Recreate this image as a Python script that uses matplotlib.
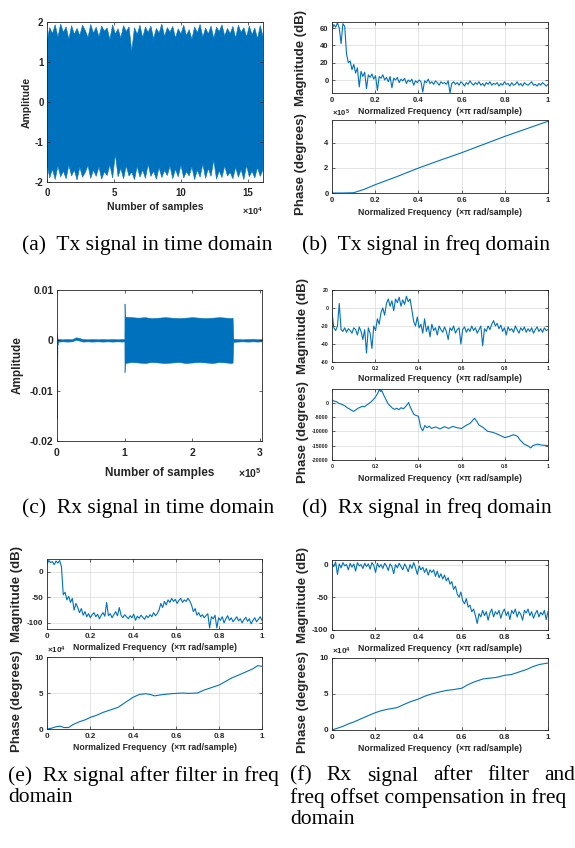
import numpy as np
import matplotlib
matplotlib.use('Agg')
import matplotlib.pyplot as plt
from matplotlib.ticker import FuncFormatter

W, H = 575, 848
blue = '#0072BD'
dark = '#262626'

plt.rcParams['font.family'] = 'Liberation Sans'
plt.rcParams['font.weight'] = 'bold'
plt.rcParams['axes.labelweight'] = 'bold'
plt.rcParams['axes.unicode_minus'] = False
plt.rcParams['mathtext.fontset'] = 'custom'
plt.rcParams['mathtext.rm'] = 'Liberation Sans:bold'
plt.rcParams['mathtext.bf'] = 'Liberation Sans:bold'

# (a) Tx signal, time domain: envelope of the dense band
tx_upper = [1.52, 1.86, 1.71, 1.93, 1.62, 1.95, 1.74, 1.88, 1.57, 1.91,
            1.69, 1.84, 1.66, 1.92, 1.79, 1.61, 1.94, 1.72, 1.87, 1.63,
            1.90, 1.77, 1.85, 1.56, 1.93, 1.70, 1.83, 1.60, 1.91, 1.76,
            1.88, 1.27, 1.86, 1.69, 1.92, 1.61, 1.87, 1.74, 1.90, 1.58,
            1.84, 1.72, 1.95, 1.64, 1.86, 1.75, 1.89, 1.60, 1.83, 1.70,
            1.92, 1.66, 1.81, 1.57, 1.88, 1.73, 1.94, 1.62, 1.85, 1.70,
            1.90, 1.59, 1.87, 1.76, 1.93, 1.65, 1.84, 1.71, 1.89, 1.60,
            1.92, 1.74, 1.86, 1.63, 1.90, 1.68, 1.85, 1.58, 1.91, 1.64]
tx_lower = [-1.55, -1.90, -1.68, -1.94, -1.60, -1.87, -1.73, -1.92, -1.58, -1.85,
            -1.70, -1.95, -1.63, -1.88, -1.76, -1.59, -1.91, -1.70, -1.86, -1.62,
            -1.93, -1.74, -1.84, -1.57, -1.90, -1.30, -1.87, -1.66, -1.92, -1.60,
            -1.85, -1.75, -1.94, -1.61, -1.88, -1.70, -1.91, -1.56, -1.86, -1.73,
            -1.93, -1.64, -1.89, -1.71, -1.84, -1.60, -1.92, -1.68, -1.87, -1.58,
            -1.90, -1.74, -1.85, -1.62, -1.94, -1.70, -1.88, -1.55, -1.91, -1.66,
            -1.86, -1.45, -1.93, -1.72, -1.89, -1.60, -1.85, -1.76, -1.92, -1.63,
            -1.88, -1.69, -1.94, -1.59, -1.87, -1.73, -1.90, -1.64, -1.86, -1.70]

# (b) Tx spectrum
mag_b = [58, 64, 61, 66, 60, 42, 65, 62,
         30, 20, 22, 12, 18, 8, 14, -8, 10, 4, 9, -10,
         6, 3, 7, 1, 5, -12, 4, 2, 6, 0,
         3, -2, 4, -9, 2, 0, 3, -3, 1, -1,
         2, -4, 0, -2, 1, -6, -1, -3, 0, -2,
         -14, -1, -3, 1, -4, -2, -5, -1, -3, -6,
         -2, -4, -3, -5, -1, -15, -4, -2, -5, -3,
         -6, -2, -4, -7, -3, -5, -1, -4, -6, -3,
         -5, -2, -6, -4, -7, -3, -5, -2, -6, -4,
         -5, -3, -7, -4, -6, -2, -5, -4, -7, -3,
         -6, -5, -2, -6, -4, -7, -3, -5, -6, -4,
         -2, -6, -5, -7, -4, -6, -3, -5, -7, -5]
ph_b_x = [0, 0.05, 0.1, 0.15, 0.2, 0.3, 0.4, 0.5, 0.6, 0.7, 0.8, 0.9, 1.0]
ph_b = [0, 0, 2e3, 3e4, 6.6e4, 1.3e5, 1.98e5, 2.6e5, 3.2e5, 3.85e5, 4.5e5, 5.1e5, 5.7e5]

# (c) Rx signal, time domain: envelope
rx_x = [0, 300, 600, 2000, 8000, 15000, 22000, 28000, 32000, 38000,
        45000, 52000, 60000, 68000, 75000, 82000, 90000, 96000, 99600, 99800,
        100200, 101000, 110000, 120000, 130000, 140000, 150000, 160000, 170000, 180000,
        190000, 200000, 210000, 220000, 230000, 240000, 250000, 258000, 259500, 260500,
        266000, 274000, 282000, 290000, 296000, 303000]
rx_upper = [0.0012, 0.0008, 0.0004, 0.00025, 0.0002, 0.00025, 0.0002, 0.0006, 0.0005, 0.00025,
            0.0002, 0.00025, 0.0002, 0.00025, 0.0002, 0.00025, 0.0002, 0.00025, 0.0002, 0.0073,
            0.0052, 0.0047, 0.0046, 0.0045, 0.0046, 0.0044, 0.0045, 0.0046, 0.0045, 0.0044,
            0.0045, 0.0046, 0.0045, 0.0044, 0.0045, 0.0046, 0.0045, 0.0044, 0.0045, 0.0003,
            0.00025, 0.0002, 0.00025, 0.0003, 0.0002, 0.00025]
rx_lower = [-0.0155, -0.006, -0.001, -0.00025, -0.0002, -0.00025, -0.0002, 0.0001, 0.0, -0.00025,
            -0.0002, -0.00025, -0.0002, -0.00025, -0.0002, -0.00025, -0.0002, -0.00025, -0.0002, -0.0063,
            -0.005, -0.0045, -0.0043, -0.0044, -0.0045, -0.0043, -0.0044, -0.0045, -0.0044, -0.0043,
            -0.0045, -0.0044, -0.0043, -0.0044, -0.0045, -0.0043, -0.0044, -0.0045, -0.0044, -0.0003,
            -0.00025, -0.0002, -0.00025, -0.0002, -0.00025, -0.0002]

# (d) Rx spectrum
mag_d = [-5, -22, -25, -20, 5, -24, -26, -22, -27, -23,
         -25, -28, -22, -24, -30, -21, -26, -35, -24, -50,
         -22, -28, -45, -20, -25, -12, -18, -5, 0, -8,
         5, 10, 2, 8, -3, 10, 6, 12, 2, 9,
         4, 13, 7, 10, -2, -15, -20, -10, -22, -18,
         -28, -12, -26, -20, -32, -18, -25, -22, -30, -20,
         -24, -27, -21, -26, -35, -22, -25, -20, -28, -24,
         -22, -40, -24, -21, -27, -23, -26, -20, -25, -22,
         -28, -24, -20, -42, -23, -26, -20, -24, -18, -14,
         -20, -17, -23, -19, -26, -22, -30, -21, -25, -23,
         -27, -20, -24, -28, -22, -25, -21, -27, -23, -26,
         -22, -28, -24, -21, -26, -23, -27, -22, -25, -24]
ph_d_x = [0, 0.01, 0.02, 0.03, 0.04, 0.05, 0.06, 0.07, 0.08, 0.09,
          0.1, 0.11, 0.12, 0.13, 0.14, 0.15, 0.16, 0.17, 0.18, 0.19,
          0.2, 0.21, 0.22, 0.225, 0.23, 0.24, 0.25, 0.26, 0.27, 0.28,
          0.29, 0.3, 0.31, 0.32, 0.33, 0.34, 0.35, 0.355, 0.36, 0.37,
          0.38, 0.39, 0.4, 0.405, 0.41, 0.42, 0.43, 0.44, 0.45, 0.46,
          0.48, 0.5, 0.52, 0.54, 0.56, 0.58, 0.6, 0.62, 0.64, 0.66,
          0.67, 0.68, 0.7, 0.72, 0.74, 0.76, 0.78, 0.8, 0.82, 0.84,
          0.86, 0.87, 0.89, 0.91, 0.92, 0.93, 0.95, 0.97, 1.0]
ph_d = [800, 500, 300, -200, -500, -800, -1200, -1800, -2200, -2700,
        -3100, -2600, -2000, -1700, -1300, -1500, -900, -400, 200, 900,
        1800, 3000, 4600, 3800, 4200, 2500, 1000, -500, -1200, -2000,
        -2400, -2000, -2500, -1800, -2200, -1500, -500, 0, -1200, -2800,
        -4200, -4500, -4800, -6500, -8500, -9800, -8000, -8800, -8200, -9000,
        -8500, -9200, -8400, -9000, -8300, -8800, -9000, -8000, -7200, -5500,
        -6500, -7800, -8700, -10000, -10300, -10800, -11500, -12200, -11800, -11200,
        -11800, -13000, -14500, -15200, -15800, -15000, -14500, -14800, -15000]

# (e) Rx after filter
mag_e = [15, 22, 18, 20, 14, 21, 17, 22, 10, -45,
         -40, -55, -48, -60, -52, -75, -62, -70, -80, -72,
         -85, -78, -88, -82, -90, -84, -80, -88, -83, -92,
         -85, -80, -87, -60, -86, -82, -90, -84, -78, -86,
         -70, -85, -90, -84, -88, -92, -86, -90, -83, -95,
         -87, -91, -85, -89, -93, -86, -90, -84, -88, -80,
         -86, -82, -75, -62, -70, -58, -65, -55, -60, -52,
         -58, -54, -62, -56, -52, -60, -55, -58, -52, -57,
         -65, -78, -72, -85, -80, -88, -84, -90, -86, -82,
         -110, -88, -92, -85, -110, -90, -95, -88, -100, -92,
         -86, -95, -90, -98, -93, -88, -96, -92, -100, -94,
         -89, -97, -92, -102, -95, -90, -98, -93, -88, -95]
ph_e_x = [0, 0.02, 0.04, 0.06, 0.08, 0.1, 0.12, 0.15, 0.18, 0.2,
          0.23, 0.26, 0.3, 0.33, 0.36, 0.38, 0.4, 0.43, 0.46, 0.48,
          0.5, 0.53, 0.56, 0.6, 0.63, 0.66, 0.7, 0.73, 0.76, 0.8,
          0.83, 0.86, 0.9, 0.93, 0.96, 0.98, 1.0]
ph_e = [0, 1e3, 3e3, 4e3, 2e3, 2e3, 6e3, 1.0e4, 1.3e4, 1.6e4,
        1.9e4, 2.3e4, 2.7e4, 3.0e4, 3.6e4, 4.0e4, 4.4e4, 4.8e4, 4.9e4, 4.8e4,
        4.6e4, 4.75e4, 4.85e4, 4.95e4, 5.0e4, 4.95e4, 5.0e4, 5.4e4, 5.7e4, 6.1e4,
        6.6e4, 7.1e4, 7.6e4, 8.0e4, 8.4e4, 8.8e4, 8.7e4]

# (f) Rx after filter and freq offset compensation
mag_f = [2, -3, 4, -15, 1, -5, 3, -2, 0, -8,
         2, -4, 1, -10, 3, -2, 0, -6, 2, -3,
         1, -7, 3, -1, -12, 2, -4, 0, -6, 2,
         -2, -9, 1, -3, -14, 0, -5, 2, -3, -8,
         1, -4, -11, 0, -6, 3, -5, -15, -2, -8,
         -4, -12, -6, -16, -8, -12, -8, -18, -10, -20,
         -14, -22, -16, -25, -20, -30, -26, -38, -33, -45,
         -50, -42, -55, -60, -52, -65, -62, -72, -68, -78,
         -90, -75, -80, -70, -78, -72, -85, -74, -68, -80,
         -72, -76, -70, -82, -73, -68, -78, -72, -84, -70,
         -75, -68, -80, -72, -76, -85, -70, -74, -68, -78,
         -72, -82, -75, -70, -80, -73, -77, -70, -84, -72]
ph_f_x = [0, 0.02, 0.05, 0.08, 0.1, 0.13, 0.16, 0.2, 0.23, 0.26,
          0.28, 0.3, 0.33, 0.36, 0.4, 0.43, 0.46, 0.5, 0.53, 0.56,
          0.6, 0.63, 0.66, 0.7, 0.73, 0.76, 0.8, 0.83, 0.86, 0.9,
          0.93, 0.96, 1.0]
ph_f = [0, 2e3, 5e3, 9e3, 1.1e4, 1.5e4, 1.9e4, 2.4e4, 2.7e4, 2.9e4,
        3.0e4, 3.1e4, 3.5e4, 3.9e4, 4.3e4, 4.7e4, 5.0e4, 5.3e4, 5.5e4, 5.6e4,
        5.8e4, 6.3e4, 6.7e4, 7.1e4, 7.2e4, 7.3e4, 7.6e4, 7.7e4, 8.0e4, 8.4e4,
        8.8e4, 9.1e4, 9.3e4]

freq_ticks = [0, 0.2, 0.4, 0.6, 0.8, 1]
freq_label = 'Normalized Frequency  (\u00d7\u03c0 rad/sample)'

fig = plt.figure(figsize=(W / 100, H / 100), dpi=100)


def box(l, t, r, b):
    return fig.add_axes([l / W, 1 - b / H, (r - l) / W, (b - t) / H])


def style(ax, fs, xpad=3, grid=False):
    ax.tick_params(direction='in', top=True, right=True, length=2.5, width=0.5,
                   labelsize=fs, pad=2.5, colors=dark)
    ax.tick_params(axis='x', pad=xpad)
    for lab in ax.get_xticklabels() + ax.get_yticklabels():
        lab.set_fontweight('bold')
    for s in ax.spines.values():
        s.set_linewidth(0.6)
        s.set_color(dark)
    if grid:
        ax.grid(True, color='#d9d9d9', linewidth=0.5)
        ax.set_axisbelow(True)


def plain(v, pos):
    return '%g' % round(v, 6)


def scaled(p):
    return FuncFormatter(lambda v, pos: '%g' % round(v / 10 ** p, 6))


def power_text(p):
    return r'$\times\mathbf{10^{%d}}$' % p


def freq_panel(l, r, t1, b1, t2, b2, mag, mag_lim, mag_ticks, ph_x, ph_y,
               ph_lim, ph_ticks, ph_pow, fs, xlab1=-0.2, xlab2=-0.2, ylx=-0.115):
    a1 = box(l, t1, r, b1)
    a1.plot(np.linspace(0, 1, len(mag)), mag, color=blue, lw=0.8)
    a1.set_xlim(0, 1)
    a1.set_ylim(*mag_lim)
    a1.set_xticks(freq_ticks)
    a1.set_yticks(mag_ticks)
    a1.xaxis.set_major_formatter(FuncFormatter(plain))
    style(a1, fs, grid=True)
    a1.set_xlabel(freq_label, fontsize=6.2, color=dark, fontweight='bold')
    a1.xaxis.set_label_coords(0.5, xlab1)
    a1.set_ylabel('Magnitude (dB)', fontsize=9.5, color=dark, fontweight='bold')
    a1.yaxis.set_label_coords(ylx, 0.5)

    a2 = box(l, t2, r, b2)
    a2.plot(ph_x, ph_y, color=blue, lw=0.8)
    a2.set_xlim(0, 1)
    a2.set_ylim(*ph_lim)
    a2.set_xticks(freq_ticks)
    a2.set_yticks(ph_ticks)
    a2.xaxis.set_major_formatter(FuncFormatter(plain))
    if ph_pow:
        a2.yaxis.set_major_formatter(scaled(ph_pow))
        a2.text(0, 1.02, power_text(ph_pow), transform=a2.transAxes,
                fontsize=fs, color=dark, ha='left', va='bottom')
    else:
        a2.yaxis.set_major_formatter(FuncFormatter(plain))
    style(a2, fs, grid=True)
    a2.set_xlabel(freq_label, fontsize=6.2, color=dark, fontweight='bold')
    a2.xaxis.set_label_coords(0.5, xlab2)
    a2.set_ylabel('Phase (degrees)', fontsize=9.5, color=dark, fontweight='bold')
    a2.yaxis.set_label_coords(ylx, 0.39)
    return a1, a2


# (a)
ax = box(47, 22, 263, 182)
xu = np.linspace(0, 1.61e5, len(tx_upper))
xl = np.linspace(0, 1.61e5, len(tx_lower))
ax.fill(np.concatenate([xu, xl[::-1]]), np.concatenate([tx_upper, tx_lower[::-1]]),
        color=blue, lw=0.4)
ax.set_xlim(0, 1.61e5)
ax.set_ylim(-2, 2)
ax.set_xticks([0, 5e4, 10e4, 15e4])
ax.set_yticks([-2, -1, 0, 1, 2])
ax.xaxis.set_major_formatter(scaled(4))
style(ax, 7, xpad=4)
ax.set_xlabel('Number of samples', fontsize=7.5, color=dark, fontweight='bold')
ax.xaxis.set_label_coords(0.5, -0.125)
ax.set_ylabel('Amplitude', fontsize=7.5, color=dark, fontweight='bold')
ax.yaxis.set_label_coords(-0.07, 0.5)
ax.text(1, -0.18, power_text(4), transform=ax.transAxes, fontsize=6.5,
        color=dark, ha='right', va='center')

# (b)
freq_panel(332, 548, 22, 93, 120, 193, mag_b, (-15, 67), [0, 20, 40, 60],
           ph_b_x, ph_b, (0, 5.8e5), [0, 2e5, 4e5], 5, 5.5)

# (c)
ax = box(57, 290, 262, 441)
ax.fill_between(rx_x, rx_lower, rx_upper, color=blue, lw=0.4)
ax.set_xlim(0, 3.03e5)
ax.set_ylim(-0.02, 0.01)
ax.set_xticks([0, 1e5, 2e5, 3e5])
ax.set_yticks([-0.02, -0.01, 0, 0.01])
ax.xaxis.set_major_formatter(scaled(5))
ax.yaxis.set_major_formatter(FuncFormatter(plain))
style(ax, 7.5, xpad=5)
ax.set_xlabel('Number of samples', fontsize=8.5, color=dark, fontweight='bold')
ax.xaxis.set_label_coords(0.5, -0.17)
ax.set_ylabel('Amplitude', fontsize=8.5, color=dark, fontweight='bold')
ax.yaxis.set_label_coords(-0.16, 0.5)
ax.text(1, -0.21, power_text(5), transform=ax.transAxes, fontsize=7.5,
        color=dark, ha='right', va='center')

# (d)
freq_panel(332, 548, 290, 362, 389, 460, mag_d, (-60, 20), [-60, -40, -20, 0, 20],
           ph_d_x, ph_d, (-20000, 4700), [-20000, -15000, -10000, -5000, 0], None, 3.8,
           xlab1=-0.17, ylx=-0.107)

# (e)
freq_panel(47, 262, 559, 629, 657, 729, mag_e, (-112, 25), [-100, -50, 0],
           ph_e_x, ph_e, (0, 1e5), [0, 5e4, 1e5], 4, 5.8, ylx=-0.11)

# (f)
freq_panel(332, 548, 560, 630, 658, 730, mag_f, (-100, 7), [-100, -50, 0],
           ph_f_x, ph_f, (0, 1e5), [0, 5e4, 1e5], 4, 5.8, ylx=-0.107)


# captions
def caption(x, y, s):
    return fig.text(x / W, 1 - y / H, s, fontfamily='Liberation Serif',
                    fontweight='normal', fontsize=15.5, color='black',
                    ha='left', va='center')


caption(22, 245, '(a)  Tx signal in time domain')
caption(302, 245, '(b)  Tx signal in freq domain')
caption(22, 508, '(c)  Rx signal in time domain')
caption(302, 508, '(d)  Rx signal in freq domain')
caption(8, 776, '(e)  Rx signal after filter in freq')
caption(8, 798, 'domain')

# (f) first line is justified across its column
words = ['(f)', 'Rx', 'signal', 'after', 'filter', 'and']
f_left, f_right = 290, 575
items = [caption(f_left, 776, w) for w in words]
renderer = fig.canvas.get_renderer()
widths = [t.get_window_extent(renderer).width for t in items]
gap = (f_right - f_left - sum(widths)) / (len(words) - 1)
xpos = f_left
for t, w in zip(items, widths):
    t.set_x(xpos / W)
    xpos += w + gap
caption(f_left, 798, 'freq offset compensation in freq')
caption(f_left, 820, 'domain')

fig.savefig('out.png', dpi=100)
